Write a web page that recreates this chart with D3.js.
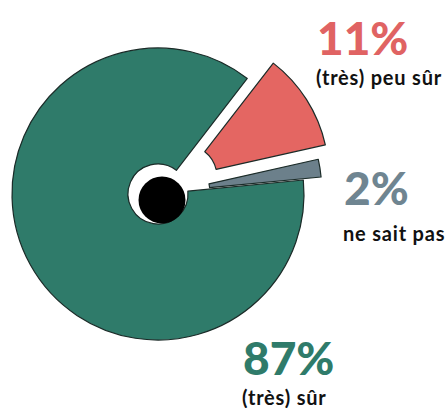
<!DOCTYPE html>
<html>
<head>
<meta charset="utf-8">
<script src="https://cdn.jsdelivr.net/npm/d3@7"></script>
<style>
html,body{margin:0;padding:0;background:#fff;}
svg{display:block;}
</style>
</head>
<body>
<svg id="chart" width="446" height="408"></svg>
<script>
// ---- data ----
const categories = ["(très) sûr", "(très) peu sûr", "ne sait pas"];
const values = [87, 11, 2];
const valueLabels = ["87%", "11%", "2%"];

// ---- style / layout ----
const colors = ["#2f7b6a", "#e46662", "#6c808b"];
const textColors = ["#2f7b6a", "#e06363", "#6f8591"];
const explode = [0, 33, 21];
const innerR = [30, 31, 31];
const outerR = [146, 143, 143];
const cx = 158, cy = 194;
const labelPos = [
  {x: 243, yNum: 375, yTxt: 405},
  {x: 317, yNum: 55, yTxt: 85},
  {x: 344, yNum: 205, yTxt: 241}
];

const svg = d3.select("#chart");
const g = svg.append("g").attr("transform", `translate(${cx},${cy})`);

const start = 84.5 * Math.PI / 180;
const pie = d3.pie().sort(null).value(d => d).startAngle(start).endAngle(start + 2 * Math.PI);
const arcs = pie(values);

arcs.forEach((a, i) => {
  const mid = (a.startAngle + a.endAngle) / 2;
  const dx = Math.sin(mid) * explode[i], dy = -Math.cos(mid) * explode[i];
  const arc = d3.arc().innerRadius(innerR[i]).outerRadius(outerR[i]);
  g.append("path")
    .attr("d", arc(a))
    .attr("transform", `translate(${dx},${dy})`)
    .attr("fill", colors[i])
    .attr("stroke", "#1b2b28")
    .attr("stroke-width", 1.2)
    .attr("stroke-linejoin", "round");
});

// black dot in the hole
g.append("circle").attr("cx", 4).attr("cy", 6).attr("r", 23.5).attr("fill", "#000");

// labels
arcs.forEach((a, i) => {
  const p = labelPos[i];
  svg.append("text")
    .attr("x", p.x).attr("y", p.yNum)
    .attr("fill", textColors[i])
    .attr("font-family", "Lato, 'DejaVu Sans', sans-serif")
    .attr("font-weight", 900)
    .attr("font-size", 46)
    .text(valueLabels[i]);
  svg.append("text")
    .attr("x", p.x - 1).attr("y", p.yTxt)
    .attr("fill", "#111")
    .attr("font-family", "Lato, 'DejaVu Sans', sans-serif")
    .attr("font-weight", 700)
    .attr("font-size", 20)
    .attr("letter-spacing", 0.8)
    .text(categories[i]);
});
</script>
</body>
</html>
